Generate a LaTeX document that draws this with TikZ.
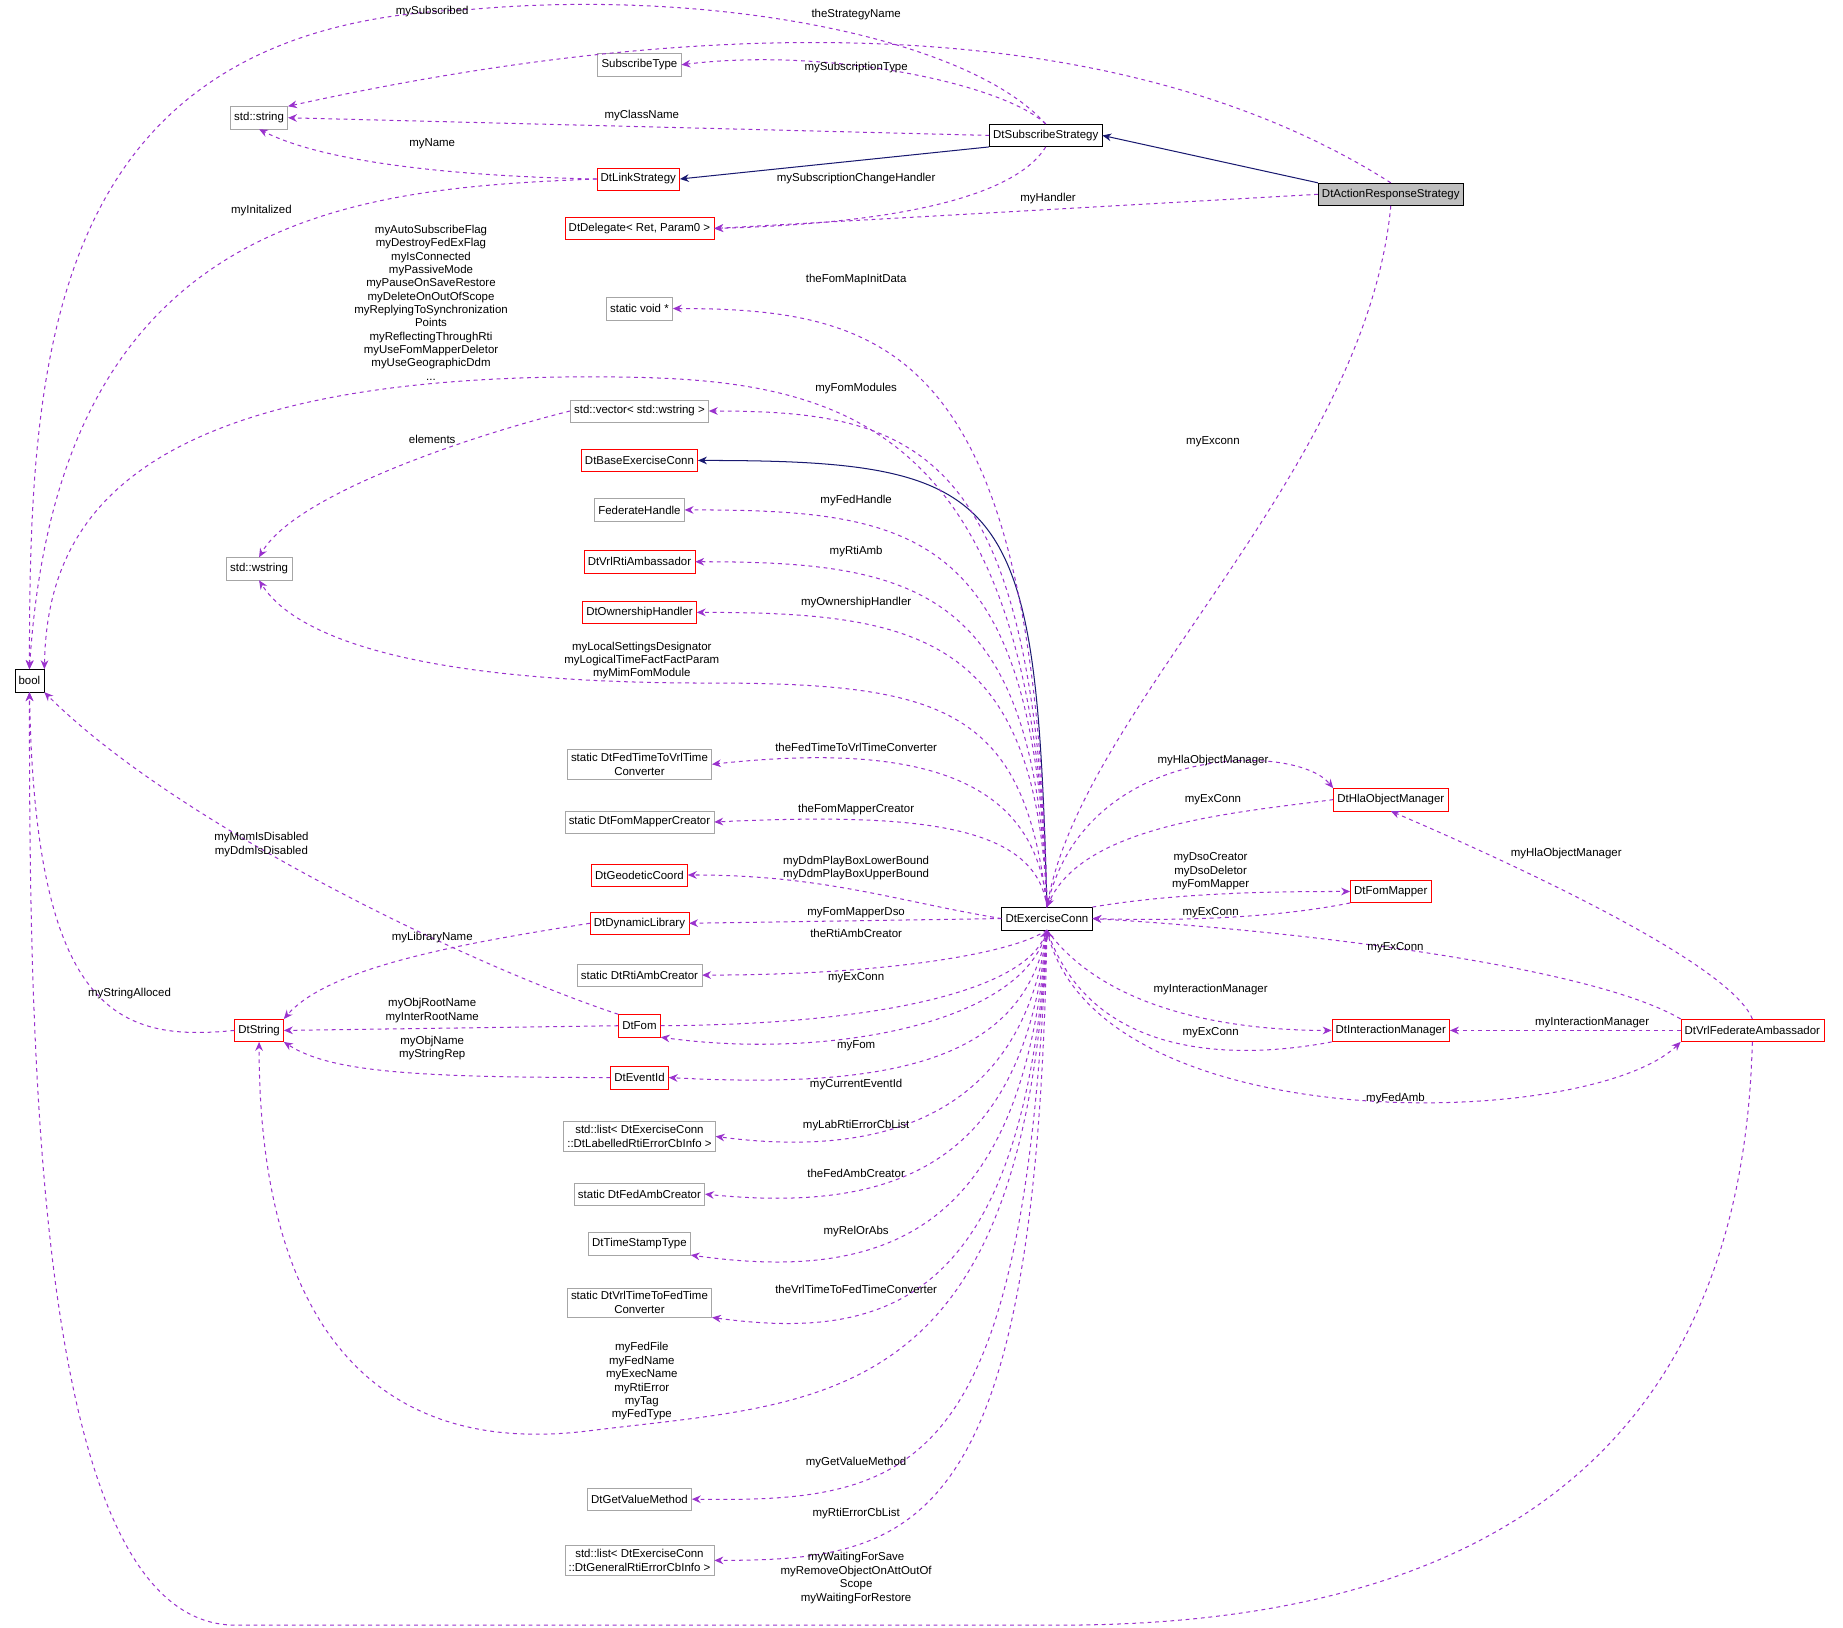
\documentclass[tikz,border=0pt]{standalone}
\usepackage{fontspec}
\setmainfont{Liberation Sans}
\usetikzlibrary{arrows.meta}
\definecolor{memcol}{HTML}{9A32CD}
\definecolor{inhcol}{HTML}{191970}
\tikzset{>={Stealth[length=7pt,width=6pt]}}
\tikzset{
  box/.style={draw=black!35, fill=white, font=\fontsize{9}{10.5}\selectfont, inner sep=3pt, minimum height=0.62cm, align=center},
  rbox/.style={box, draw=red},
  kbox/.style={box, draw=black},
  mem/.style={draw=memcol, dashed, ->, thick},
  inh/.style={draw=inhcol, ->, thick},
  lbl/.style={font=\fontsize{9}{10.5}\selectfont, align=center, inner sep=0pt},
}
\begin{document}
\begin{tikzpicture}[x=0.0325cm, y=-0.0325cm]
  \useasboundingbox (0,0) rectangle (1565,1382);

  % classes
  \node[kbox] (bool) at (25,578) {bool};
  \node[box] (str) at (220,100) {std::string};
  \node[box] (wstr) at (220,483) {std::wstring};
  \node[rbox] (dtstr) at (220,875) {DtString};
  \node[box] (subtype) at (543,55) {SubscribeType};
  \node[kbox] (sub) at (888,115) {DtSubscribeStrategy};
  \node[rbox] (link) at (542,152) {DtLinkStrategy};
  \node[rbox] (deleg) at (543,194) {DtDelegate\textless{} Ret, Param0 \textgreater};
  \node[kbox, fill=black!25] (ars) at (1181,165) {DtActionResponseStrategy};
  \node[box] (svoid) at (543,262) {static void *};
  \node[box] (vec) at (543,349) {std::vector\textless{} std::wstring \textgreater};
  \node[rbox] (base) at (543,391) {DtBaseExerciseConn};
  \node[box] (fedh) at (543,433) {FederateHandle};
  \node[rbox] (rtiamb) at (543,477) {DtVrlRtiAmbassador};
  \node[rbox] (own) at (543,520) {DtOwnershipHandler};
  \node[box] (ft2v) at (543,649) {static DtFedTimeToVrlTime\\Converter};
  \node[box] (fmc) at (543,698) {static DtFomMapperCreator};
  \node[rbox] (geo) at (543,743) {DtGeodeticCoord};
  \node[rbox] (dynlib) at (543,784) {DtDynamicLibrary};
  \node[box] (rac) at (543,828) {static DtRtiAmbCreator};
  \node[rbox] (fom) at (543,871) {DtFom};
  \node[rbox] (evid) at (543,915) {DtEventId};
  \node[box] (list1) at (543,965) {std::list\textless{} DtExerciseConn\\::DtLabelledRtiErrorCbInfo \textgreater};
  \node[box] (fac) at (543,1014) {static DtFedAmbCreator};
  \node[box] (tst) at (543,1056) {DtTimeStampType};
  \node[box] (v2ft) at (543,1106) {static DtVrlTimeToFedTime\\Converter};
  \node[box] (gvm) at (543,1273) {DtGetValueMethod};
  \node[box] (list2) at (543,1325) {std::list\textless{} DtExerciseConn\\::DtGeneralRtiErrorCbInfo \textgreater};
  \node[kbox] (ec) at (889,780) {DtExerciseConn};
  \node[rbox] (hla) at (1181,679) {DtHlaObjectManager};
  \node[rbox] (fm) at (1181,757) {DtFomMapper};
  \node[rbox] (im) at (1181,875) {DtInteractionManager};
  \node[rbox] (fa) at (1488,875) {DtVrlFederateAmbassador};

  % inheritance
  \draw[inh] (ars.north west) -- (sub.east);
  \draw[inh] (sub.south west) -- (link.east);
  \draw[inh] (ec.north) .. controls (880,420) and (860,391) .. (base.east);

  % top members
  \draw[mem] (sub.north) .. controls (820,30) and (600,-10) .. (400,8) .. controls (40,20) and (25,300) .. (bool.north);
  \draw[mem] (ars.north) .. controls (1000,40) and (700,-10) .. (str.north east);
  \draw[mem] (sub.north) .. controls (850,70) and (700,40) .. (subtype.east);
  \draw[mem] (sub.west) -- (str.east);
  \draw[mem] (link.west) .. controls (400,150) and (280,140) .. (str.south);
  \draw[mem] (link.west) .. controls (300,160) and (50,180) .. (bool.north);
  \draw[mem] (sub.south) .. controls (860,170) and (750,190) .. (deleg.east);
  \draw[mem] (ars.west) -- (deleg.east);
  \draw[mem] (ars.south) .. controls (1160,400) and (920,600) .. (ec.north);
  \node[lbl] (lsub) at (367,10) {mySubscribed};
  \node[lbl] (lstrat) at (727,12) {theStrategyName};
  \node[lbl] (lstype) at (727,57) {mySubscriptionType};
  \node[lbl] (lcls) at (545,98) {myClassName};
  \node[lbl] (lname) at (367,122) {myName};
  \node[lbl] (linit) at (222,179) {myInitalized};
  \node[lbl] (lsch) at (727,152) {mySubscriptionChangeHandler};
  \node[lbl] (lhnd) at (890,169) {myHandler};
  \node[lbl] (lexc) at (1030,375) {myExconn};

  % exercise connection, upper members
  \draw[mem] (ec.north) .. controls (880,300) and (760,262) .. (svoid.east);
  \draw[mem] (ec.north) .. controls (880,340) and (700,320) .. (500,320) .. controls (100,320) and (40,450) .. (bool.north east);
  \draw[mem] (ec.north) .. controls (880,380) and (780,349) .. (vec.east);
  \draw[mem] (vec.west) .. controls (400,370) and (250,420) .. (wstr.north);
  \draw[mem] (ec.north) .. controls (880,450) and (780,433) .. (fedh.east);
  \draw[mem] (ec.north) .. controls (880,500) and (780,477) .. (rtiamb.east);
  \draw[mem] (ec.north) .. controls (880,540) and (780,520) .. (own.east);
  \draw[mem] (ec.north) .. controls (870,600) and (800,580) .. (600,580) .. controls (350,580) and (250,540) .. (wstr.south);
  \draw[mem] (ec.north) .. controls (880,660) and (780,630) .. (ft2v.east);
  \draw[mem] (ec.north) .. controls (880,700) and (780,690) .. (fmc.east);
  \draw[mem] (ec.west) .. controls (760,765) and (700,743) .. (geo.east);
  \draw[mem] (ec.west) -- (dynlib.east);
  \draw[mem] (ec.south) .. controls (860,810) and (750,828) .. (rac.east);
  \draw[mem] (fom.east) .. controls (750,870) and (870,840) .. (ec.south);
  \draw[mem] (ec.south) .. controls (870,870) and (700,900) .. (fom.south east);
  \node[lbl] (lfmid) at (727,237) {theFomMapInitData};
  \node[lbl] (lflags) at (366,257) {myAutoSubscribeFlag\\myDestroyFedExFlag\\myIsConnected\\myPassiveMode\\myPauseOnSaveRestore\\myDeleteOnOutOfScope\\myReplyingToSynchronization\\Points\\myReflectingThroughRti\\myUseFomMapperDeletor\\myUseGeographicDdm\\...};
  \node[lbl] (lmods) at (727,330) {myFomModules};
  \node[lbl] (lelem) at (367,373) {elements};
  \node[lbl] (lfedh) at (727,425) {myFedHandle};
  \node[lbl] (lrti) at (727,468) {myRtiAmb};
  \node[lbl] (lown) at (727,512) {myOwnershipHandler};
  \node[lbl] (llocal) at (545,561) {myLocalSettingsDesignator\\myLogicalTimeFactFactParam\\myMimFomModule};
  \node[lbl] (lft2v) at (727,635) {theFedTimeToVrlTimeConverter};
  \node[lbl] (lfmc) at (727,687) {theFomMapperCreator};
  \node[lbl] (lgeo) at (727,737) {myDdmPlayBoxLowerBound\\myDdmPlayBoxUpperBound};
  \node[lbl] (ldso) at (727,775) {myFomMapperDso};
  \node[lbl] (lrac) at (727,793) {theRtiAmbCreator};
  \node[lbl] (lfomex) at (727,830) {myExConn};
  \node[lbl] (lfom) at (727,888) {myFom};

  % exercise connection, lower members
  \draw[mem] (ec.south) .. controls (870,900) and (760,925) .. (evid.east);
  \draw[mem] (ec.south) .. controls (870,940) and (760,985) .. (list1.east);
  \draw[mem] (ec.south) .. controls (870,990) and (760,1030) .. (fac.east);
  \draw[mem] (ec.south) .. controls (870,1040) and (760,1090) .. (tst.south east);
  \draw[mem] (ec.south) .. controls (870,1100) and (760,1140) .. (v2ft.south east);
  \draw[mem] (ec.south) .. controls (870,1200) and (700,1190) .. (500,1215) .. controls (300,1240) and (220,1100) .. (dtstr.south);
  \draw[mem] (ec.south) .. controls (870,1250) and (780,1276) .. (gvm.east);
  \draw[mem] (ec.south) .. controls (880,1300) and (780,1325) .. (list2.east);
  \draw[mem] (fom.north west) .. controls (400,820) and (150,700) .. (bool.south east);
  \draw[mem] (dynlib.west) .. controls (400,800) and (280,820) .. (dtstr.north east);
  \draw[mem] (fom.west) -- (dtstr.east);
  \draw[mem] (evid.west) .. controls (350,915) and (280,910) .. (dtstr.south east);
  \draw[mem] (dtstr.west) .. controls (100,885) and (30,860) .. (bool.south);
  \node[lbl] (lceid) at (727,921) {myCurrentEventId};
  \node[lbl] (llab) at (727,956) {myLabRtiErrorCbList};
  \node[lbl] (lfac) at (727,996) {theFedAmbCreator};
  \node[lbl] (lrel) at (727,1046) {myRelOrAbs};
  \node[lbl] (lv2ft) at (727,1095) {theVrlTimeToFedTimeConverter};
  \node[lbl] (lfiles) at (545,1173) {myFedFile\\myFedName\\myExecName\\myRtiError\\myTag\\myFedType};
  \node[lbl] (lgvm) at (727,1242) {myGetValueMethod};
  \node[lbl] (lrecl) at (727,1285) {myRtiErrorCbList};
  \node[lbl] (lmom) at (222,717) {myMomIsDisabled\\myDdmIsDisabled};
  \node[lbl] (llib) at (367,796) {myLibraryName};
  \node[lbl] (lroot) at (367,858) {myObjRootName\\myInterRootName};
  \node[lbl] (lobjn) at (367,890) {myObjName\\myStringRep};
  \node[lbl] (lalloc) at (110,844) {myStringAlloced};

  % managers and federate ambassador
  \draw[mem] (ec.north) .. controls (920,630) and (1100,630) .. (hla.north west);
  \draw[mem] (hla.west) .. controls (1050,690) and (920,700) .. (ec.north);
  \draw[mem] (ec.north east) .. controls (1000,758) and (1080,757) .. (fm.west);
  \draw[mem] (fm.south west) .. controls (1080,780) and (1000,782) .. (ec.east);
  \draw[mem] (ec.south) .. controls (940,860) and (1050,875) .. (im.west);
  \draw[mem] (im.south west) .. controls (1050,900) and (930,900) .. (ec.south);
  \draw[mem] (ec.south) .. controls (930,970) and (1350,960) .. (fa.south west);
  \draw[mem] (fa.north west) .. controls (1350,820) and (1100,790) .. (ec.east);
  \draw[mem] (fa.north) .. controls (1470,820) and (1300,740) .. (hla.south);
  \draw[mem] (fa.west) -- (im.east);
  \draw[mem] (fa.south) .. controls (1480,1200) and (1300,1380) .. (900,1380) -- (200,1380) .. controls (30,1380) and (25,900) .. (bool.south);
  \node[lbl] (lhla1) at (1030,646) {myHlaObjectManager};
  \node[lbl] (lhla2) at (1030,679) {myExConn};
  \node[lbl] (ldso2) at (1028,740) {myDsoCreator\\myDsoDeletor\\myFomMapper};
  \node[lbl] (lfm2) at (1028,775) {myExConn};
  \node[lbl] (lim1) at (1028,840) {myInteractionManager};
  \node[lbl] (lim2) at (1028,877) {myExConn};
  \node[lbl] (lfamb) at (1185,933) {myFedAmb};
  \node[lbl] (lfaex) at (1185,805) {myExConn};
  \node[lbl] (lfahla) at (1330,725) {myHlaObjectManager};
  \node[lbl] (lfaim) at (1352,868) {myInteractionManager};
  \node[lbl] (lwait) at (727,1340) {myWaitingForSave\\myRemoveObjectOnAttOutOf\\Scope\\myWaitingForRestore};
\end{tikzpicture}
\end{document}
